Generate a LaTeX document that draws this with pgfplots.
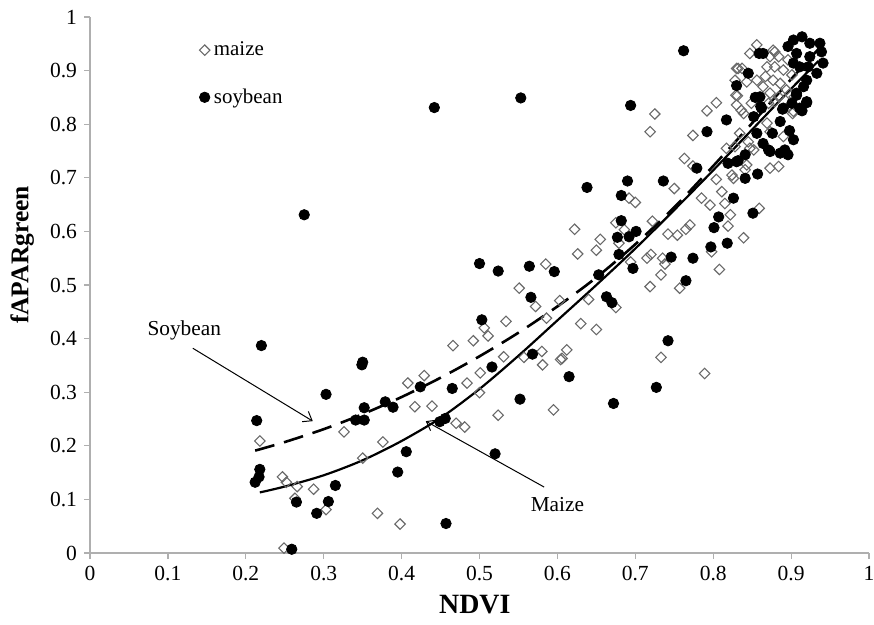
\documentclass[border=0pt]{standalone}
\usepackage{fontspec}
\setmainfont{Liberation Serif}
\usepackage{pgfplots}
\pgfplotsset{compat=1.18}
\usetikzlibrary{arrows.meta}
\definecolor{axgray}{RGB}{175,175,175}
\definecolor{dgray}{RGB}{105,105,105}
\begin{document}
\begin{tikzpicture}
\begin{axis}[
  name=ax, at={(0,0)}, anchor=south west,
  width=389.5bp, height=268bp, scale only axis,
  xmin=0, xmax=1, ymin=0, ymax=1,
  axis x line*=bottom, axis y line*=left,
  axis line style={draw=axgray, line width=0.6bp, -},
  tick style={draw=axgray, line width=0.6bp},
  tick align=outside, major tick length=3bp,
  xtick={0,0.1,0.2,0.3,0.4,0.5,0.6,0.7,0.8,0.9,1},
  xticklabels={0,0.1,0.2,0.3,0.4,0.5,0.6,0.7,0.8,0.9,1},
  ytick={0,0.1,0.2,0.3,0.4,0.5,0.6,0.7,0.8,0.9,1},
  yticklabels={0,0.1,0.2,0.3,0.4,0.5,0.6,0.7,0.8,0.9,1},
  /pgf/number format/assume math mode=true,
  ticklabel style={font=\fontsize{10.8}{12}\selectfont},
  xlabel={\textbf{NDVI}},
  ylabel={\textbf{fAPARgreen}},
  xlabel style={font=\fontsize{14}{16}\selectfont, at={(axis description cs:0.494,-0.097)}, anchor=center},
  ylabel style={font=\fontsize{12.8}{14}\selectfont, at={(axis description cs:-0.087,0.556)}, anchor=center, rotate=0},
  legend style={at={(axis description cs:0.14,0.962)}, anchor=north west, draw=none, fill=none,
    font=\fontsize{10.5}{12}\selectfont, row sep=11bp, inner sep=0pt},
  legend cell align=left,
  legend image code/.code={\draw[mark repeat=2,mark phase=2,#1] plot coordinates {(0bp,0bp)(5bp,0bp)(10bp,0bp)};},
  clip=false,
]
% maize
\addplot[only marks, mark=square, mark size=1.85bp, mark options={draw=dgray, fill=white, line width=0.55bp, rotate=45}] coordinates {
(0.218,0.209)(0.247,0.142)(0.252,0.132)(0.266,0.124)(0.263,0.102)(0.287,0.119)(0.303,0.081)(0.249,0.009)
(0.326,0.226)(0.350,0.177)(0.376,0.207)(0.369,0.074)(0.398,0.054)(0.408,0.317)(0.429,0.331)(0.417,0.273)
(0.439,0.274)(0.466,0.387)(0.492,0.396)(0.506,0.420)(0.511,0.405)(0.484,0.317)(0.501,0.336)(0.500,0.299)
(0.470,0.242)(0.481,0.235)(0.524,0.257)(0.531,0.366)(0.557,0.365)(0.581,0.351)(0.606,0.363)(0.595,0.267)
(0.733,0.365)(0.789,0.335)(0.551,0.494)(0.572,0.460)(0.534,0.432)(0.763,0.736)(0.774,0.722)(0.750,0.680)
(0.692,0.662)(0.700,0.654)(0.622,0.604)(0.655,0.585)(0.650,0.565)(0.626,0.558)(0.585,0.539)(0.675,0.616)
(0.686,0.603)(0.679,0.578)(0.722,0.619)(0.742,0.595)(0.754,0.593)(0.765,0.604)(0.770,0.612)(0.694,0.543)
(0.715,0.550)(0.720,0.557)(0.735,0.550)(0.738,0.539)(0.733,0.519)(0.719,0.497)(0.757,0.494)(0.603,0.471)
(0.586,0.438)(0.640,0.473)(0.675,0.458)(0.630,0.428)(0.650,0.417)(0.580,0.376)(0.612,0.379)(0.604,0.361)
(0.785,0.662)(0.796,0.649)(0.815,0.652)(0.822,0.631)(0.819,0.610)(0.804,0.697)(0.811,0.674)(0.824,0.705)
(0.826,0.699)(0.808,0.529)(0.798,0.562)(0.725,0.819)(0.719,0.786)(0.774,0.779)(0.792,0.825)(0.804,0.840)
(0.830,0.904)(0.829,0.854)(0.830,0.836)(0.817,0.755)(0.828,0.758)(0.831,0.853)(0.836,0.826)(0.839,0.820)
(0.849,0.839)(0.871,0.839)(0.879,0.842)(0.869,0.802)(0.873,0.786)(0.845,0.767)(0.847,0.755)(0.852,0.752)
(0.834,0.783)(0.890,0.777)(0.902,0.820)(0.904,0.851)(0.898,0.856)(0.873,0.718)(0.884,0.721)(0.841,0.715)
(0.843,0.724)(0.859,0.643)(0.839,0.588)(0.903,0.824)(0.877,0.938)(0.873,0.926)(0.884,0.926)(0.869,0.907)
(0.879,0.907)(0.890,0.901)(0.867,0.889)(0.877,0.882)(0.886,0.876)(0.864,0.870)(0.873,0.858)(0.884,0.851)
(0.894,0.864)(0.901,0.892)(0.896,0.920)(0.847,0.932)(0.832,0.904)(0.837,0.904)(0.828,0.882)(0.843,0.879)
(0.856,0.882)(0.879,0.935)(0.856,0.948)
};
\addlegendentry{maize}
% soybean
\addplot[only marks, mark=*, mark size=2.6bp, mark options={draw=black, fill=black}] coordinates {
(0.275,0.631)(0.442,0.831)(0.553,0.849)(0.762,0.937)(0.220,0.387)(0.214,0.247)(0.218,0.156)(0.217,0.142)
(0.212,0.132)(0.265,0.095)(0.259,0.007)(0.303,0.296)(0.315,0.126)(0.306,0.096)(0.291,0.074)(0.349,0.351)
(0.350,0.356)(0.352,0.271)(0.341,0.248)(0.352,0.248)(0.379,0.282)(0.389,0.272)(0.406,0.189)(0.395,0.151)
(0.424,0.310)(0.465,0.307)(0.449,0.245)(0.456,0.251)(0.457,0.055)(0.503,0.435)(0.516,0.347)(0.520,0.185)
(0.500,0.540)(0.524,0.526)(0.564,0.535)(0.596,0.525)(0.566,0.477)(0.568,0.371)(0.552,0.287)(0.615,0.329)
(0.672,0.279)(0.727,0.309)(0.742,0.396)(0.638,0.682)(0.690,0.694)(0.736,0.694)(0.682,0.667)(0.682,0.620)
(0.677,0.589)(0.692,0.590)(0.701,0.600)(0.679,0.557)(0.653,0.519)(0.697,0.531)(0.663,0.478)(0.670,0.467)
(0.746,0.552)(0.774,0.550)(0.765,0.508)(0.779,0.718)(0.819,0.727)(0.830,0.730)(0.826,0.662)(0.807,0.627)
(0.801,0.607)(0.797,0.571)(0.818,0.578)(0.694,0.835)(0.830,0.872)(0.817,0.808)(0.792,0.786)(0.852,0.814)
(0.861,0.833)(0.854,0.850)(0.886,0.805)(0.889,0.828)(0.901,0.839)(0.907,0.854)(0.920,0.840)(0.914,0.825)
(0.876,0.783)(0.856,0.783)(0.898,0.788)(0.903,0.771)(0.864,0.764)(0.871,0.752)(0.892,0.752)(0.896,0.743)
(0.886,0.746)(0.841,0.743)(0.832,0.732)(0.841,0.699)(0.857,0.707)(0.851,0.634)(0.914,0.963)(0.924,0.951)
(0.937,0.951)(0.939,0.935)(0.941,0.914)(0.933,0.895)(0.920,0.882)(0.916,0.870)(0.903,0.957)(0.896,0.945)
(0.907,0.932)(0.924,0.926)(0.911,0.907)(0.903,0.914)(0.922,0.907)(0.907,0.858)(0.920,0.842)(0.911,0.830)
(0.890,0.830)(0.864,0.932)(0.860,0.851)(0.859,0.932)(0.845,0.895)(0.862,0.830)(0.873,0.749)
};
\addlegendentry{soybean}
% soybean fit (dashed)
\addplot[forget plot, black, line width=1.3bp, dash pattern=on 10bp off 5bp, smooth] coordinates {
(0.212,0.191)(0.25,0.207)(0.30,0.231)(0.35,0.259)(0.40,0.291)(0.45,0.327)(0.50,0.367)(0.55,0.411)
(0.60,0.460)(0.65,0.514)(0.70,0.576)(0.75,0.645)(0.80,0.722)(0.85,0.802)(0.90,0.884)(0.935,0.940)
};
% maize fit (solid)
\addplot[forget plot, black, line width=1.1bp, smooth] coordinates {
(0.218,0.113)(0.25,0.124)(0.30,0.145)(0.35,0.173)(0.40,0.209)(0.45,0.252)(0.50,0.306)(0.55,0.368)
(0.60,0.434)(0.65,0.500)(0.70,0.568)(0.75,0.640)(0.80,0.714)(0.85,0.790)(0.90,0.866)(0.935,0.918)
};
% annotations
\draw[-{Straight Barb[length=4bp,width=6bp]}, line width=0.5bp] (axis cs:0.132,0.382) -- (axis cs:0.286,0.246);
\node[font=\fontsize{10.7}{12}\selectfont] at (axis cs:0.121,0.416) {Soybean};
\draw[-{Straight Barb[length=4bp,width=6bp]}, line width=0.5bp] (axis cs:0.583,0.123) -- (axis cs:0.431,0.246);
\node[font=\fontsize{10.7}{12}\selectfont] at (axis cs:0.600,0.091) {Maize};
\end{axis}
\pgfresetboundingbox
\useasboundingbox ([shift={(-45bp,-36bp)}]ax.south west) rectangle ([shift={(2.5bp,8.5bp)}]ax.north east);
\end{tikzpicture}
\end{document}
